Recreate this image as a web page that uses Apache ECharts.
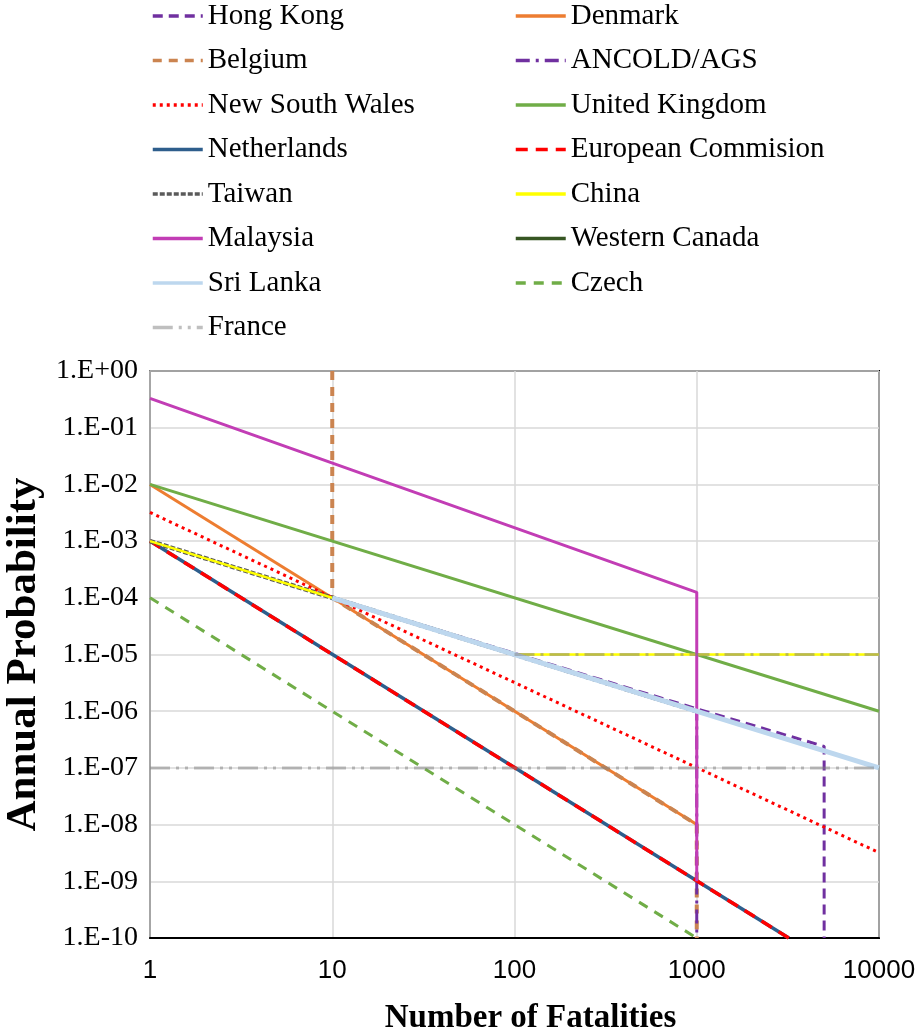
<!DOCTYPE html>
<html>
<head>
<meta charset="utf-8">
<script src="https://cdn.jsdelivr.net/npm/echarts@6/dist/echarts.min.js"></script>
<style>
html,body{margin:0;padding:0;background:#fff;}
#chart{width:919px;height:1032px;}
</style>
</head>
<body>
<div id="chart"></div>
<script>
// Axis ticks
const xTicks = [1, 10, 100, 1000, 10000];
const yMin = 1e-10, yMax = 1;

// Series data as [Number of fatalities, annual probability] pairs
const hongKong      = [[10, 1e-4], [1000, 1.1e-6], [5000, 2.4e-7], [5000, 1e-10]];
const denmark       = [[1, 1e-2], [1000, 1e-8]];
const belgium       = [[10, 1], [10, 1e-4], [1000, 1e-8], [1000, 1e-10]];
const ancold        = [[10, 1e-4], [1000, 1e-6], [1000, 1e-10]];
const newSouthWales = [[1, 3.2e-3], [10000, 3.2e-9]];
const unitedKingdom = [[1, 1e-2], [10000, 1e-6]];
const netherlands   = [[1, 1e-3], [3200, 1e-10]];
const europeanComm  = [[1, 1e-3], [3200, 1e-10]];
const taiwan        = [[1, 1e-3], [1000, 1e-6]];
const china         = [[1, 1e-3], [100, 1e-5], [10000, 1e-5]];
const malaysia      = [[1, 0.33], [1000, 1.25e-4], [1000, 1e-9]];
const westernCanada = [[10, 1e-4], [10000, 1e-7]];
const sriLanka      = [[10, 1e-4], [10000, 1e-7]];
const czech         = [[1, 1e-4], [1000, 1e-10]];
const franceLow     = [[1, 1e-7], [10000, 1e-7]];
const franceHigh    = [[100, 1e-5], [10000, 1e-5]];

const legendLeft  = ['Hong Kong', 'Belgium', 'New South Wales', 'Netherlands', 'Taiwan', 'Malaysia', 'Sri Lanka', 'France'];
const legendRight = ['Denmark', 'ANCOLD/AGS', 'United Kingdom', 'European Commision', 'China', 'Western Canada', 'Czech'];

function mk(name, data, color, width, type) {
  return {
    name: name, type: 'line', data: data, symbol: 'none', showSymbol: false,
    silent: true, animation: false, clip: true,
    lineStyle: { color: color, width: width, type: type || 'solid' },
    itemStyle: { color: color }
  };
}

const series = [
  mk('Hong Kong', hongKong, '#7030A0', 3, [10, 6]),
  mk('Denmark', denmark, '#ED7D31', 3),
  mk('Belgium', belgium, '#CB8450', 4, [9, 7]),
  mk('ANCOLD/AGS', ancold, '#7030A0', 3, [14, 6, 3, 6]),
  mk('New South Wales', newSouthWales, '#FF0000', 3, [3, 4]),
  mk('United Kingdom', unitedKingdom, '#70AD47', 3),
  mk('Netherlands', netherlands, '#2E5E8C', 3.5),
  mk('European Commision', europeanComm, '#FF0000', 3.5, [12, 8]),
  mk('Taiwan', taiwan, '#5A5A5A', 4.5, [5, 2]),
  mk('China', china, '#FFFF00', 2.5),
  mk('Malaysia', malaysia, '#C23DB5', 3),
  mk('Western Canada', westernCanada, '#375623', 3),
  mk('Sri Lanka', sriLanka, '#BDD7EE', 5),
  mk('Czech', czech, '#70AD47', 3, [10, 8]),
  mk('France', franceLow, 'rgba(128,128,128,0.5)', 3, [20, 6, 3, 6, 3, 6]),
  mk('France', franceHigh, 'rgba(128,128,128,0.5)', 3, [20, 6, 3, 6])
];

const legendText = { fontFamily: 'Liberation Serif', fontSize: 29, color: '#000', lineHeight: 30 };
function legend(data, left) {
  return {
    data: data, left: left, top: -4, orient: 'vertical', itemWidth: 50, itemHeight: 14,
    itemGap: 14.5, selectedMode: false, textStyle: legendText,
    lineStyle: { width: 3.5 },
    itemStyle: { color: 'transparent', borderColor: 'transparent', borderWidth: 0 }
  };
}

const chart = echarts.init(document.getElementById('chart'), null, { renderer: 'canvas' });
chart.setOption({
  backgroundColor: '#ffffff',
  animation: false,
  legend: [legend(legendLeft, 146), legend(legendRight, 509)],
  grid: {
    left: 150, right: 40, top: 371, bottom: 94, show: true, borderColor: '#000', borderWidth: 2,
    backgroundColor: 'transparent', containLabel: false, outerBoundsMode: 'none'
  },
  xAxis: {
    type: 'log', logBase: 10, min: xTicks[0], max: xTicks[xTicks.length - 1],
    name: 'Number of Fatalities', nameLocation: 'middle', nameGap: 64,
    nameTextStyle: { fontFamily: 'Liberation Serif', fontWeight: 'bold', fontSize: 33, color: '#000', padding: [0, 0, 0, 32] },
    axisLine: { show: true, lineStyle: { color: '#000', width: 2 } },
    axisTick: { show: false }, minorTick: { show: false },
    axisLabel: { margin: 20, fontFamily: 'Liberation Sans', fontSize: 26, color: '#000', formatter: v => String(Math.round(v)) },
    splitLine: { show: true, lineStyle: { color: '#D9D9D9', width: 1.5 } }
  },
  yAxis: {
    type: 'log', logBase: 10, min: yMin, max: yMax, interval: 1,
    name: 'Annual Probability', nameLocation: 'middle', nameGap: 88,
    nameTextStyle: { fontFamily: 'Liberation Serif', fontWeight: 'bold', fontSize: 43, color: '#000' },
    axisLine: { show: true, lineStyle: { color: '#A6A6A6', width: 2 } },
    axisTick: { show: false }, minorTick: { show: false },
    axisLabel: {
      margin: 12, fontFamily: 'Liberation Serif', fontSize: 28, color: '#000',
      formatter: function (v) {
        const e = Math.round(Math.log10(v));
        return '1.E' + (e < 0 ? '-' : '+') + String(Math.abs(e)).padStart(2, '0');
      }
    },
    splitLine: { show: true, lineStyle: { color: '#D9D9D9', width: 1.5 } }
  },
  series: series
});
</script>
</body>
</html>
